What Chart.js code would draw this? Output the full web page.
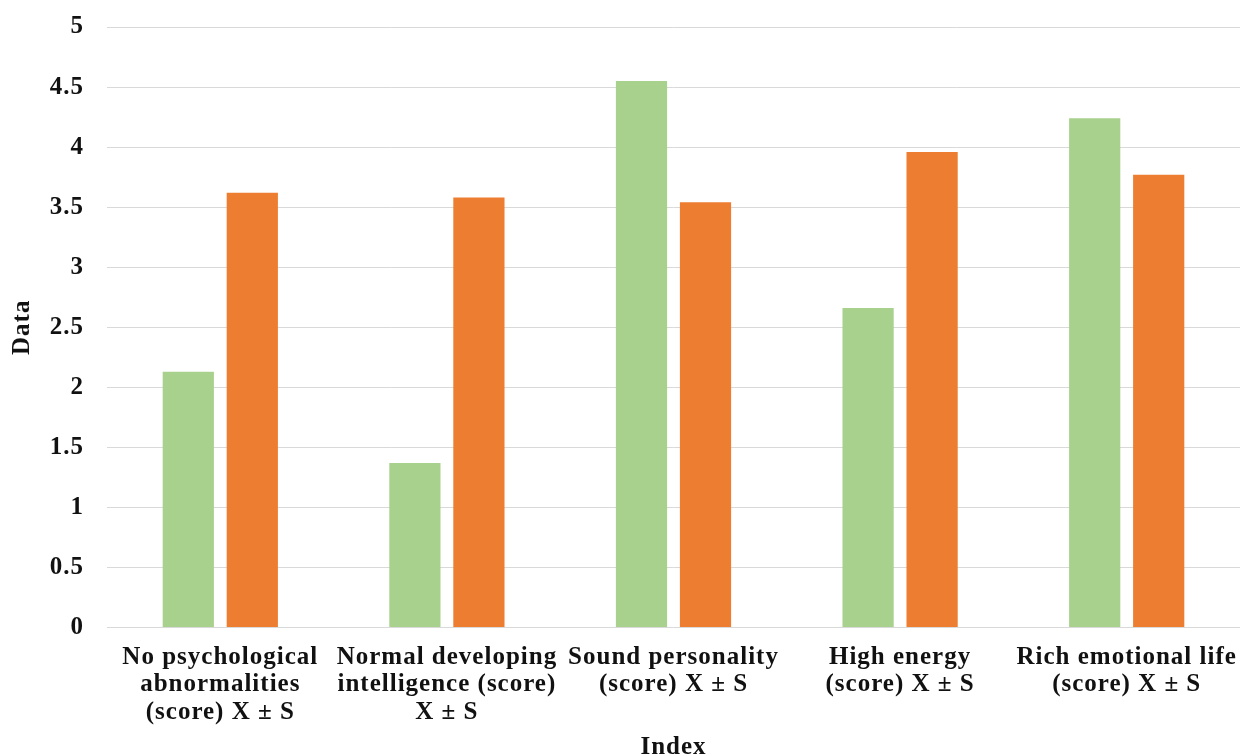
<!DOCTYPE html>
<html>
<head>
<meta charset="utf-8">
<script src="https://cdn.jsdelivr.net/npm/chart.js@4/dist/chart.umd.min.js"></script>
<style>
  html, body { margin: 0; padding: 0; background: #fff; }
  #wrap { width: 1240px; height: 756px; }
</style>
</head>
<body>
<div id="wrap"><canvas id="chart" width="1240" height="756"></canvas></div>
<script>
// Category labels (one array per wrapped line set)
const categories = [
  ["No psychological", "abnormalities", "(score) X \u00B1 S"],
  ["Normal developing", "intelligence (score)", "X \u00B1 S"],
  ["Sound personality", "(score) X \u00B1 S"],
  ["High energy", "(score) X \u00B1 S"],
  ["Rich emotional life", "(score) X \u00B1 S"]
];

// Mean scores per index
const controlScores = [2.13, 1.37, 4.55, 2.66, 4.24];
const observationScores = [3.62, 3.58, 3.54, 3.96, 3.77];

// Y-axis range and step
const yMin = 0;
const yMax = 5;
const yStep = 0.5;

const serif = "'Liberation Serif', 'Times New Roman', serif";

// Slightly wider letter spacing for all canvas text
const spacingPlugin = {
  id: 'letterSpacing',
  beforeDraw(chart) {
    if ('letterSpacing' in chart.ctx) chart.ctx.letterSpacing = '1px';
  }
};

new Chart(document.getElementById('chart'), {
  type: 'bar',
  data: {
    labels: categories,
    datasets: [
      {
        label: 'Control group',
        data: controlScores,
        backgroundColor: '#A9D18E',
        categoryPercentage: 0.565,
        barPercentage: 0.8
      },
      {
        label: 'Observation group',
        data: observationScores,
        backgroundColor: '#ED7D31',
        categoryPercentage: 0.565,
        barPercentage: 0.8
      }
    ]
  },
  options: {
    responsive: false,
    animation: false,
    layout: { padding: { top: 27, right: 0, bottom: 0, left: 0 } },
    plugins: {
      legend: { display: false },
      tooltip: { enabled: false }
    },
    scales: {
      x: {
        grid: { display: false },
        border: { display: false },
        ticks: {
          color: '#111',
          font: { family: serif, size: 25, weight: 'bold', lineHeight: 1.1 },
          padding: 8,
          maxRotation: 0,
          minRotation: 0,
          autoSkip: false
        },
        title: {
          display: true,
          text: 'Index',
          color: '#111',
          font: { family: serif, size: 25, weight: 'bold', lineHeight: 0.7 },
          padding: { top: 0, bottom: 0 }
        },
        afterFit(scale) { scale.height = 128.5; }
      },
      y: {
        min: yMin,
        max: yMax,
        grid: {
          color: '#d9d9d9',
          lineWidth: 1,
          drawTicks: true,
          tickLength: 23,
          tickColor: 'rgba(0,0,0,0)'
        },
        border: { display: false },
        ticks: {
          stepSize: yStep,
          color: '#111',
          font: { family: serif, size: 25, weight: 'bold' },
          padding: 0,
          callback: (value) => String(Number(value))
        },
        title: {
          display: true,
          text: 'Data',
          color: '#111',
          font: { family: serif, size: 25, weight: 'bold', lineHeight: 1 },
          padding: { top: 10, bottom: 0 }
        },
        afterFit(scale) { scale.width = 107; }
      }
    }
  },
  plugins: [spacingPlugin]
});
</script>
</body>
</html>
